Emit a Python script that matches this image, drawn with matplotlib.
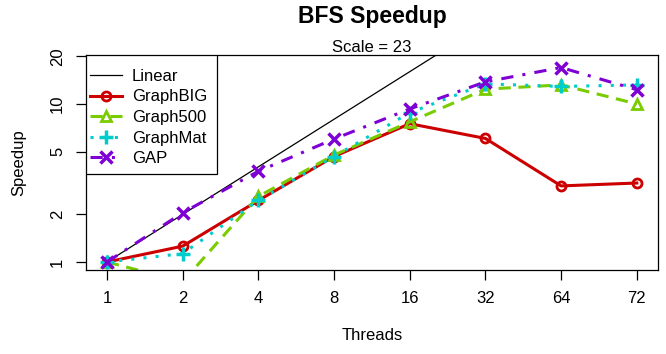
import numpy as np
import matplotlib
matplotlib.use("Agg")
import matplotlib.pyplot as plt
from matplotlib.patches import Rectangle

plt.rcParams['font.family'] = ['Liberation Sans', 'DejaVu Sans']

# Datos
threads = ['1', '2', '4', '8', '16', '32', '64', '72']
linear = [1, 2, 4, 8, 16, 32, 64, 72]
graphbig = [1.0, 1.26, 2.45, 4.65, 7.5, 6.05, 3.03, 3.16]
graph500 = [1.0, 0.75, 2.6, 4.75, 7.7, 12.4, 13.2, 10.0]
graphmat = [1.0, 1.13, 2.45, 4.65, 8.8, 13.4, 12.9, 13.2]
gap = [1.0, 2.05, 3.75, 6.0, 9.3, 13.8, 17.0, 12.3]

x = np.arange(len(threads))

# Tamaño del area de trazado en pixeles
ax_w, ax_h = 658 - 86, 270 - 55

fig = plt.figure(figsize=(6.66, 3.54), dpi=100)
ax = fig.add_axes([86/666, 1 - 270/354, ax_w/666, ax_h/354])

lw = 2.2
ax.plot(x, linear, color='black', lw=0.9, label='Linear')
ax.plot(x, graphbig, color='#cc0000', lw=lw, ls='-', marker='o', ms=6.5,
        mfc='none', mew=2, label='GraphBIG')
ax.plot(x, graph500, color='#7acc00', lw=lw, ls=(0, (4, 2.5)), marker='^', ms=7.5,
        mfc='none', mew=2, label='Graph500')
ax.plot(x, graphmat, color='#00cccc', lw=lw, ls=(0, (1, 3)), marker='+', ms=10,
        mew=2.5, label='GraphMat')
ax.plot(x, gap, color='#7f00d4', lw=lw, ls=(0, (4, 3, 1, 3)), marker='x', ms=8,
        mew=2.5, label='GAP')

ax.set_yscale('log')
ax.set_ylim(0.89, 20.4)
ax.set_xlim(-0.277, 7.28)
ax.set_yticks([1, 2, 5, 10, 20])
ax.set_yticklabels(['1', '2', '5', '10', '20'], rotation=90, va='center')
ax.minorticks_off()
ax.set_xticks(x)
ax.set_xticklabels(threads)
ax.tick_params(axis='both', length=7, width=0.9, labelsize=12, pad=8)
for s in ax.spines.values():
    s.set_linewidth(0.9)

ax.set_xlabel('Threads', fontsize=12, labelpad=16)
ax.set_ylabel('Speedup', fontsize=12, labelpad=17)

fig.text(372/666, 1 - 17/354, 'BFS Speedup', ha='center', va='center',
         fontsize=16.5, fontweight='bold')
ax.set_title('Scale = 23', fontsize=12, pad=2)

# Caja de la leyenda al estilo R
box = Rectangle((0, 1 - 119/ax_h), 131/ax_w, 119/ax_h, transform=ax.transAxes,
                facecolor='white', edgecolor='black', lw=0.9, zorder=4)
ax.add_patch(box)
leg = ax.legend(loc='upper left', bbox_to_anchor=(4/ax_w, 1 - 14/ax_h),
                borderaxespad=0, frameon=False, fontsize=12,
                handlelength=1.9, handletextpad=0.6, labelspacing=0.33,
                borderpad=0)
leg.set_zorder(5)

fig.savefig('out.png', dpi=100)
